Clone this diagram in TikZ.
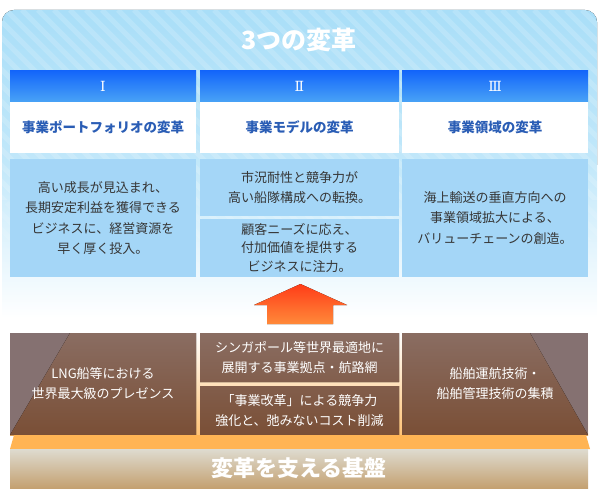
\documentclass[tikz,border=0pt]{standalone}
\usepackage{fontspec}
\setmainfont{Noto Sans CJK JP}
\newfontfamily\romanfont{DejaVu Serif}
\definecolor{paneltop}{HTML}{A9DEF8}
\definecolor{panelmid}{HTML}{C2E8FA}
\definecolor{hdrtop}{HTML}{1466FA}
\definecolor{hdrbot}{HTML}{49A3F6}
\definecolor{nameblue}{HTML}{2A5DB5}
\definecolor{skybox}{HTML}{A4D6F7}
\definecolor{bodytext}{HTML}{363636}
\definecolor{mauve}{HTML}{857171}
\definecolor{browntop}{HTML}{8A6D62}
\definecolor{brownbot}{HTML}{7A4F36}
\definecolor{basetop}{HTML}{DEDBD0}
\definecolor{basebot}{HTML}{C4A171}
\definecolor{stripe}{HTML}{FFB454}
\definecolor{arrowtop}{HTML}{FF3C18}
\definecolor{arrowbot}{HTML}{FF8A3A}
\pgfdeclarelayer{bg}
\pgfsetlayers{bg,main}
\begin{document}
\begin{tikzpicture}[x=1pt, y=-1pt,
    cell/.style={rectangle, inner sep=0pt, outer sep=0pt, align=center},
    narrow/.style={minimum width=186pt},
    wide/.style={minimum width=199pt},
    hdrcell/.style={cell, minimum height=31pt, top color=hdrtop, bottom color=hdrbot, text=white, font=\romanfont\fontsize{14}{14}\selectfont},
    namecell/.style={cell, minimum height=51pt, fill=white, text=nameblue, font=\bfseries\fontsize{13.5}{16}\selectfont},
    skycell/.style={cell, fill=skybox, text=bodytext, font=\fontsize{13}{20.5}\selectfont},
    footcell/.style={cell, text=white, font=\fontsize{13}{20}\selectfont},
]
\useasboundingbox (0,0) rectangle (600,500);

% panel with stripes
\fill[top color=paneltop, bottom color=panelmid] (2,165) [rounded corners=12pt] -- (2,10) -- (597,10) [sharp corners] -- (597,165) -- cycle;
\fill[top color=panelmid, bottom color=white] (2,164.5) rectangle (597,318);
\foreach \ya/\yb/\op in {10/200/0.16, 200/240/0.1, 240/280/0.05}
{
  \begin{scope}
    \clip (2,\yb) [rounded corners=12pt] -- (2,\ya) -- (597,\ya) [sharp corners] -- (597,\yb) -- cycle;
    \foreach \s in {-330,-314,...,600}
      \draw[white, opacity=\op, line width=5pt] (\s,10) -- (\s+320,330);
  \end{scope}
}
\node[font=\bfseries\fontsize{25}{25}\selectfont, text=white] (title) at (299,40) {3つの変革};

% header row
\node[hdrcell, narrow] (h1) at (103,86.5) {Ⅰ};
\node[hdrcell, wide] (h2) at (299.5,86.5) {Ⅱ};
\node[hdrcell, narrow] (h3) at (495,86.5) {Ⅲ};

\node[namecell, narrow] (n1) at (103,127.5) {事業ポートフォリオの変革};
\node[namecell, wide] (n2) at (299.5,127.5) {事業モデルの変革};
\node[namecell, narrow] (n3) at (495,127.5) {事業領域の変革};

% three reforms
\node[skycell, narrow, minimum height=118pt] (b1) at (103,218) {高い成長が見込まれ、\\長期安定利益を獲得できる\\ビジネスに、経営資源を\\早く厚く投入。};
\node[skycell, wide, minimum height=57pt] (b2a) at (299.5,187.5) {市況耐性と競争力が\\高い船隊構成への転換。};
\node[skycell, wide, minimum height=58pt, font=\fontsize{13}{18.5}\selectfont] (b2b) at (299.5,248) {顧客ニーズに応え、\\付加価値を提供する\\ビジネスに注力。};
\node[skycell, narrow, minimum height=118pt] (b3) at (495,218) {海上輸送の垂直方向への\\事業領域拡大による、\\バリューチェーンの創造。};

% arrow
\fill[top color=arrowtop, bottom color=arrowbot] (300.5,284) -- (347,305) -- (333,305) -- (333,324) -- (267,324) -- (267,305) -- (254,305) -- cycle;

% foundation
\node[footcell, narrow, minimum height=102pt] (f1) at (103,384) {LNG船等における\\世界最大級のプレゼンス};
\node[footcell, wide, minimum height=49pt] (f2a) at (299.5,357.5) {シンガポール等世界最適地に\\展開する事業拠点・航路網};
\node[footcell, wide, minimum height=49pt] (f2b) at (299.5,410.5) {「事業改革」による競争力\\強化と、弛みないコスト削減};
\node[footcell, narrow, minimum height=102pt] (f3) at (495,384) {船舶運航技術・\\船舶管理技術の集積};

\begin{pgfonlayer}{bg}
  \fill[top color=white, bottom color=stripe!80] (f1.north west) rectangle (f3.south east);
  \foreach \f in {f1,f2a,f2b,f3}
    \fill[mauve] (\f.north west) rectangle (\f.south east);
  \begin{scope}
    \clip (f1.north west) rectangle (f1.south east) (f2a.north west) rectangle (f2a.south east)
          (f2b.north west) rectangle (f2b.south east) (f3.north west) rectangle (f3.south east);
    \fill[top color=browntop, bottom color=brownbot] (70,333) -- (530,333) -- (588,435) -- (10,435) -- cycle;
  \end{scope}
  \fill[stripe] (14,435) -- (586,435) -- (590,449) -- (10,449) -- cycle;
  \fill[top color=basetop, bottom color=basebot] (10,449) rectangle (588,488);
\end{pgfonlayer}
\node[font=\bfseries\fontsize{22}{22}\selectfont, text=white] (basetitle) at (299,468) {変革を支える基盤};

\end{tikzpicture}
\end{document}
